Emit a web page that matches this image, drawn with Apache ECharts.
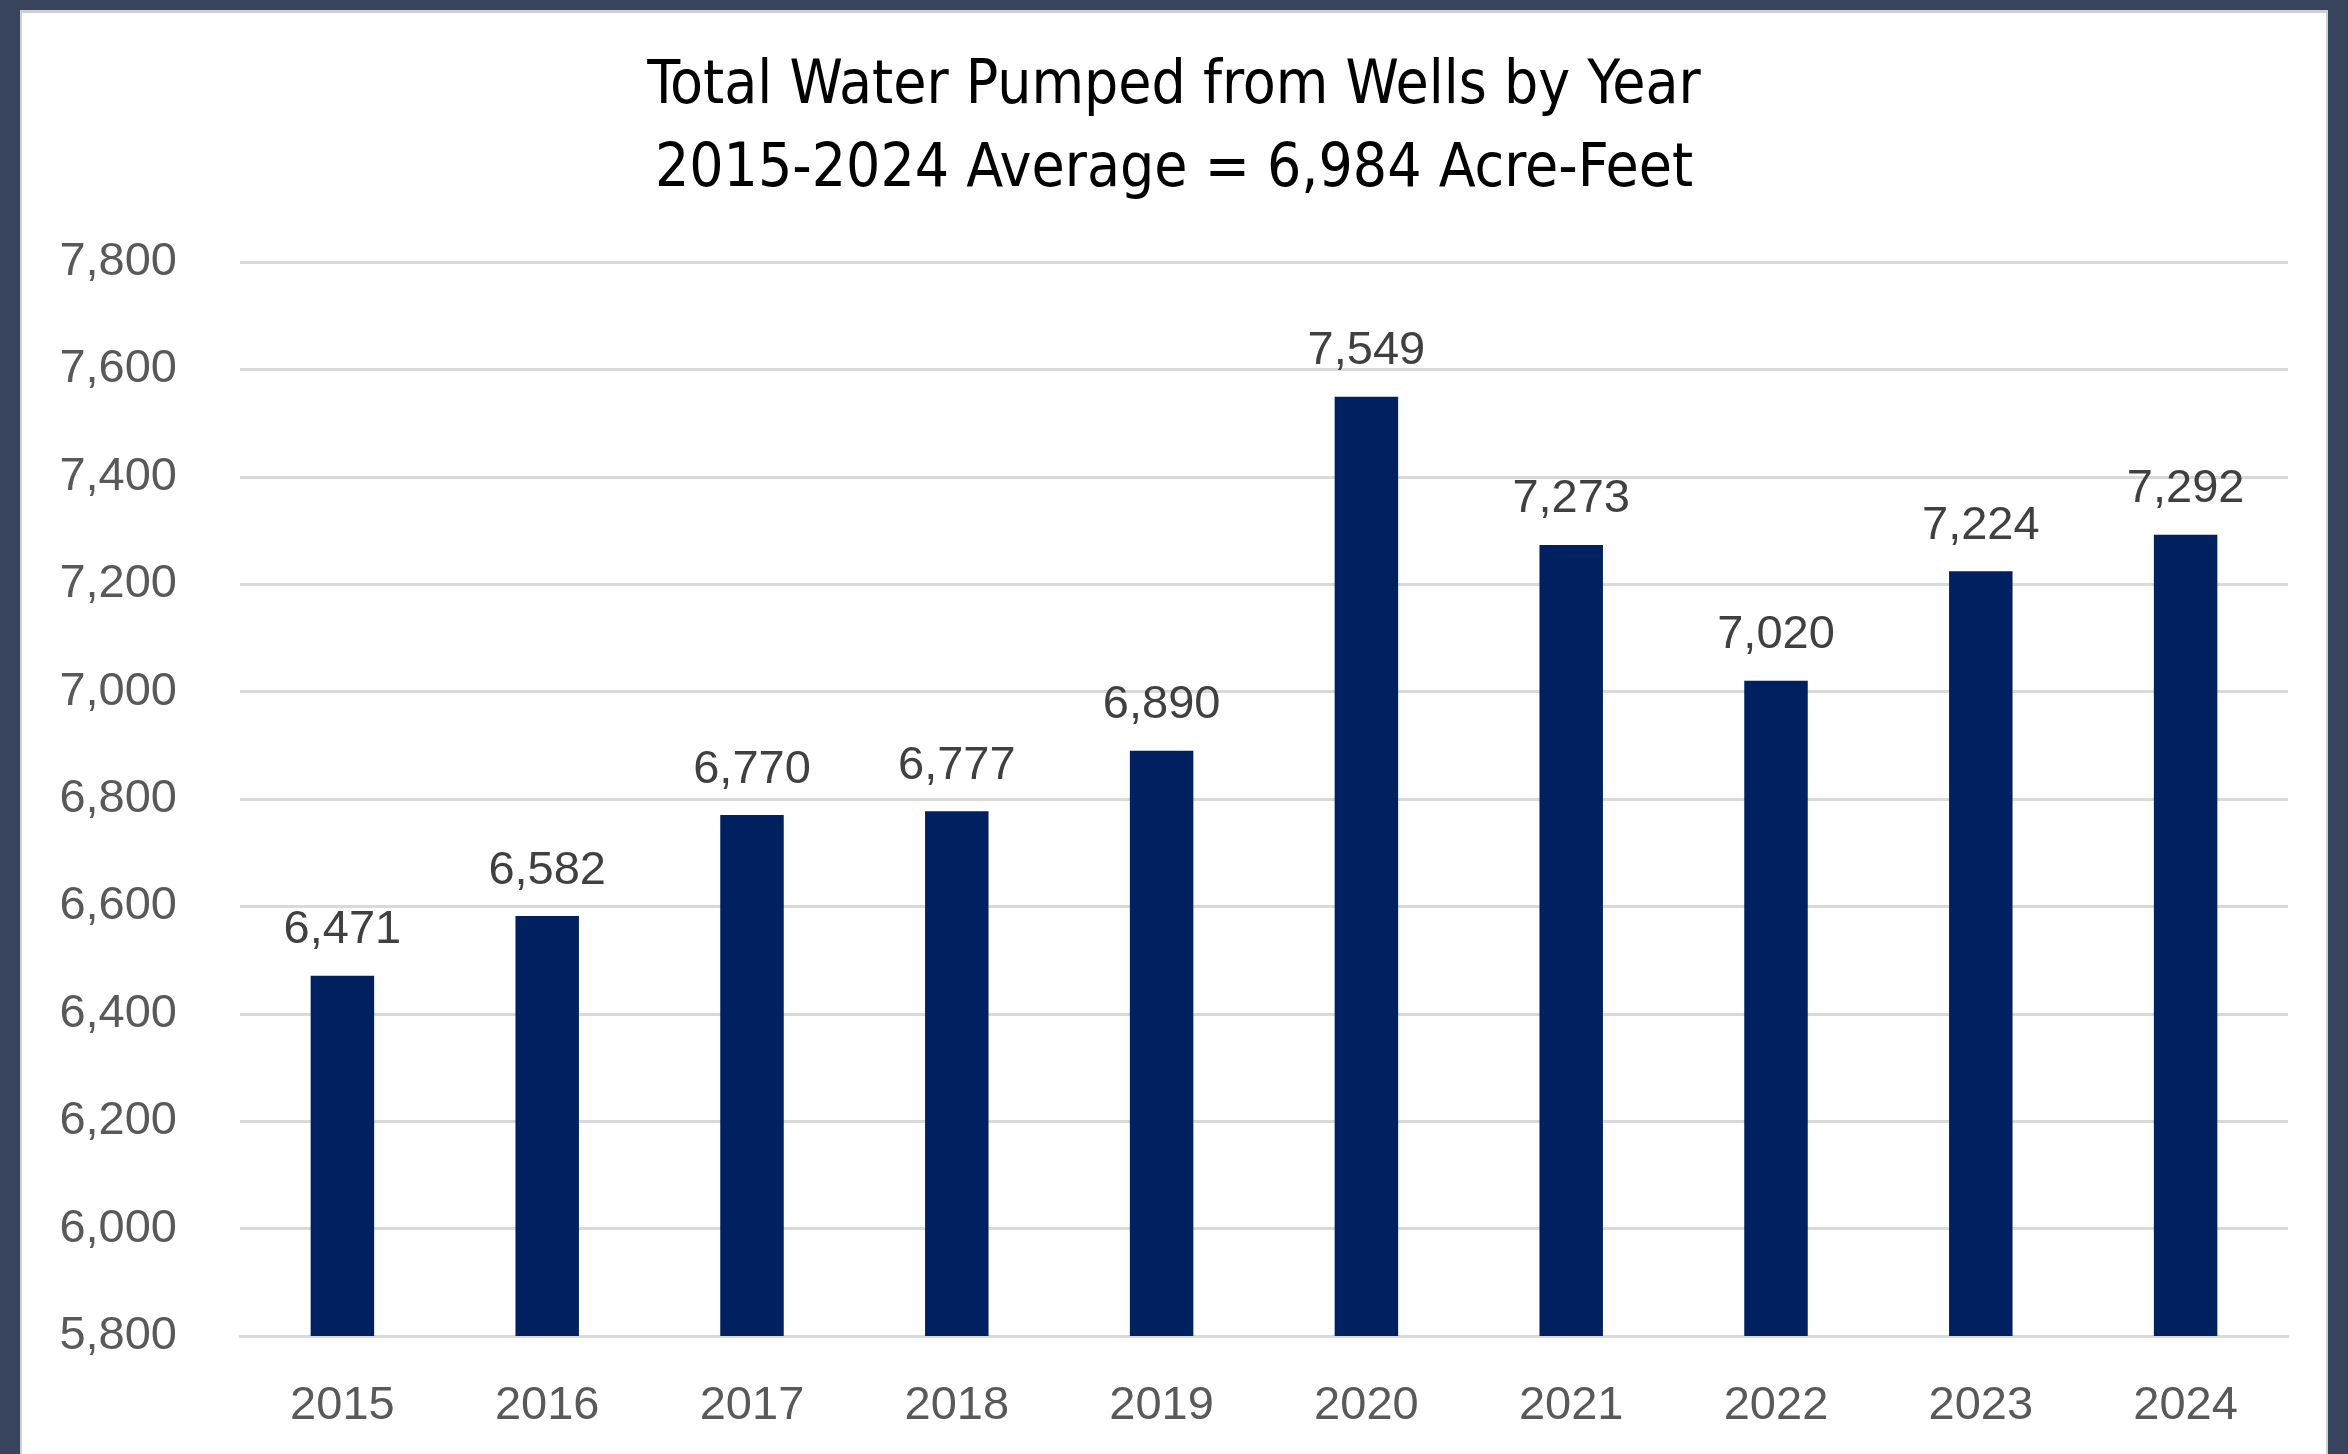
<!DOCTYPE html>
<html>
<head>
<meta charset="utf-8">
<script src="https://cdn.jsdelivr.net/npm/echarts@6/dist/echarts.min.js"></script>
<style>
  html, body { margin: 0; padding: 0; width: 2348px; height: 1454px; background: #38435e; overflow: hidden; }
  #panel { position: absolute; left: 20px; top: 10px; width: 2308px; height: 1444px; background: #ffffff; border-left: 2px solid #d0d0d0; border-top: 3px solid #d0d0d0; border-right: 2px solid #d0d0d0; box-sizing: border-box; }
  #chart { position: absolute; left: 0; top: 0; width: 2348px; height: 1454px; }
</style>
</head>
<body>
<div id="panel"></div>
<div id="chart"></div>
<script>
// Annual well pumping totals (acre-feet)
const years = ['2015', '2016', '2017', '2018', '2019', '2020', '2021', '2022', '2023', '2024'];
const pumped = [6471, 6582, 6770, 6777, 6890, 7549, 7273, 7020, 7224, 7292];
const titleLines = ['Total Water Pumped from Wells by Year', '2015-2024 Average = 6,984 Acre-Feet'];

const fmt = v => Number(v).toLocaleString('en-US');

const chart = echarts.init(document.getElementById('chart'), null, { renderer: 'canvas' });
chart.setOption({
  backgroundColor: 'transparent',
  animation: false,
  title: {
    text: titleLines.join('\n'),
    left: 'center',
    top: 41,
    textStyle: {
      fontFamily: '"Liberation Sans Narrow", "DejaVu Sans Condensed", "Liberation Sans", sans-serif',
      fontSize: 60,
      fontWeight: 'normal',
      color: '#000000',
      lineHeight: 83
    }
  },
  grid: { left: 240, right: 60, top: 262, bottom: 118 },
  xAxis: {
    type: 'category',
    data: years,
    axisLine: { show: true, lineStyle: { color: '#d9d9d9', width: 3 } },
    axisTick: { show: false },
    axisLabel: {
      color: '#595959',
      fontFamily: '"Liberation Sans", Arial, sans-serif',
      fontSize: 47,
      margin: 47
    }
  },
  yAxis: {
    type: 'value',
    min: 5800,
    max: 7800,
    interval: 200,
    axisLine: { show: false },
    axisTick: { show: false },
    splitLine: { lineStyle: { color: '#d9d9d9', width: 3 } },
    axisLabel: {
      color: '#595959',
      fontFamily: '"Liberation Sans", Arial, sans-serif',
      fontSize: 47,
      margin: 63,
      formatter: fmt
    }
  },
  series: [{
    type: 'bar',
    data: pumped,
    barWidth: '31%',
    itemStyle: { color: '#002060' },
    label: {
      show: true,
      position: 'top',
      distance: 22,
      color: '#404040',
      fontFamily: '"Liberation Sans", Arial, sans-serif',
      fontSize: 47,
      formatter: p => fmt(p.value)
    }
  }]
});
</script>
</body>
</html>
